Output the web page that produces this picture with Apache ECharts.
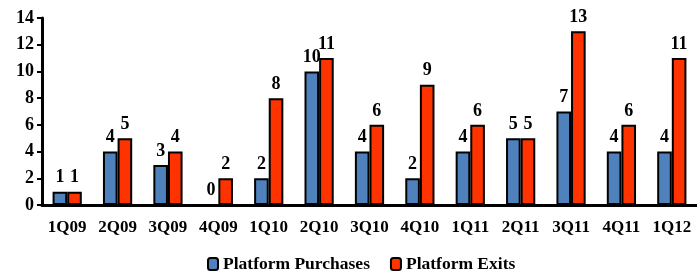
<!DOCTYPE html>
<html>
<head>
<meta charset="utf-8">
<script src="https://cdn.jsdelivr.net/npm/echarts@6/dist/echarts.min.js"></script>
<style>
  html, body { margin: 0; padding: 0; background: #fff; }
  #chart { width: 697px; height: 271px; }
</style>
</head>
<body>
<div id="chart"></div>
<script>
const quarters = ['1Q09', '2Q09', '3Q09', '4Q09', '1Q10', '2Q10', '3Q10', '4Q10', '1Q11', '2Q11', '3Q11', '4Q11', '1Q12']
const purchases = [1, 4, 3, 0, 2, 10, 4, 2, 4, 5, 7, 4, 4]
const exits = [1, 5, 4, 2, 8, 11, 6, 9, 6, 5, 13, 6, 11]

const font = 'Liberation Serif'
const chart = echarts.init(document.getElementById('chart'))

const barLabel = {
  show: true,
  position: 'top',
  distance: 5,
  color: '#000',
  fontFamily: font,
  fontWeight: 'bold',
  fontSize: 18
}

chart.setOption({
  animation: false,
  textStyle: { fontFamily: font },
  grid: { left: 42, right: 0, top: 18, bottom: 66 },
  legend: {
    top: 250,
    left: 202,
    itemWidth: 10,
    itemHeight: 12,
    itemGap: 20,
    textStyle: { fontFamily: font, fontWeight: 'bold', fontSize: 17.5, color: '#000' },
    data: ['Platform Purchases', 'Platform Exits']
  },
  xAxis: {
    type: 'category',
    data: quarters,
    axisLine: { lineStyle: { color: '#000', width: 3 } },
    axisTick: { show: false },
    axisLabel: { interval: 0, color: '#000', fontFamily: font, fontWeight: 'bold', fontSize: 17, margin: 14 }
  },
  yAxis: {
    type: 'value',
    min: 0,
    max: 14,
    interval: 2,
    splitLine: { show: false },
    axisLine: { show: true, lineStyle: { color: '#000', width: 3 } },
    axisTick: { show: true, length: 5, lineStyle: { color: '#000', width: 2 } },
    axisLabel: { color: '#000', fontFamily: font, fontWeight: 'bold', fontSize: 18, margin: 8 }
  },
  series: [
    {
      name: 'Platform Purchases',
      type: 'bar',
      data: purchases,
      barGap: '0%',
      barCategoryGap: '42%',
      itemStyle: { color: '#4F81BD', borderColor: '#000', borderWidth: 2 },
      label: barLabel
    },
    {
      name: 'Platform Exits',
      type: 'bar',
      data: exits,
      itemStyle: { color: '#FF3300', borderColor: '#000', borderWidth: 2 },
      label: barLabel
    }
  ]
})
</script>
</body>
</html>
